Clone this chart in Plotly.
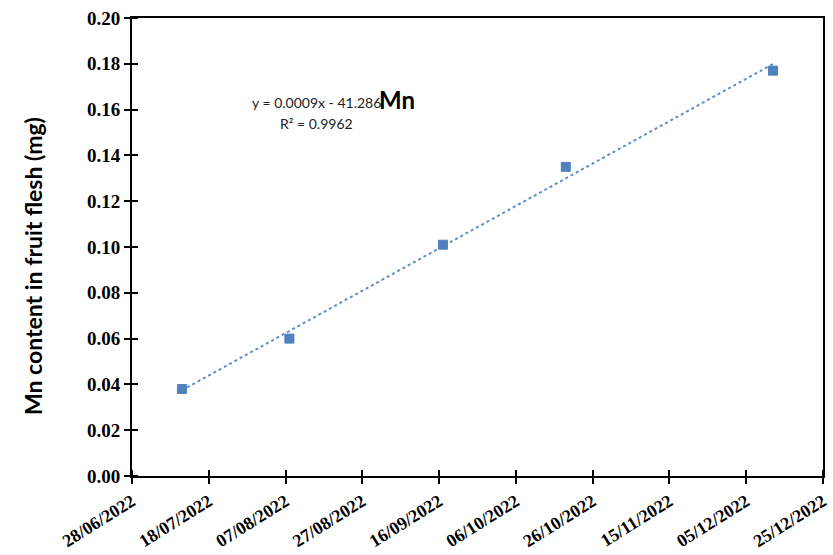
import numpy as np
import pandas as pd
import plotly.graph_objects as go

# Sampling dates and Mn content in fruit flesh
sample_dates = ["2022-07-11", "2022-08-08", "2022-09-17", "2022-10-19", "2022-12-12"]
mn_content = [0.038, 0.060, 0.101, 0.135, 0.177]

y_title = "Mn content in fruit flesh (mg)"
equation_text = "y = 0.0009x - 41.286"
r2_text = "R² = 0.9962"

x_dt = pd.to_datetime(sample_dates)

# Linear trend line fitted over day numbers
days = (x_dt - x_dt[0]).days.values.astype(float)
slope, intercept = np.polyfit(days, mn_content, 1)
trend_y = slope * days[[0, -1]] + intercept
trend_x = x_dt[[0, -1]]

serif = "Liberation Serif"
sans = "Lato"

fig = go.Figure()
fig.add_trace(go.Scatter(
    x=trend_x, y=trend_y, mode="lines",
    line=dict(color="#5B8FD0", width=2, dash="dot"),
    showlegend=False, hoverinfo="skip",
))
fig.add_trace(go.Scatter(
    x=x_dt, y=mn_content, mode="markers",
    marker=dict(symbol="square", size=9, color="#4F81BD",
                line=dict(color="#4F81BD", width=1)),
    showlegend=False,
))

day_ms = 86400000
fig.update_layout(
    width=833, height=555,
    margin=dict(l=132, r=10, t=18, b=79),
    paper_bgcolor="white", plot_bgcolor="white",
    xaxis=dict(
        type="date", range=["2022-06-28", "2022-12-25"], automargin=False,
        tick0="2022-06-28", dtick=20 * day_ms, tickformat="%d/%m/%Y",
        tickangle=-32,
        tickfont=dict(family=serif, size=18, color="black", weight="bold"),
        showgrid=False, zeroline=False,
        showline=True, linecolor="black", linewidth=2, mirror=True,
        ticks="outside", ticklen=6, tickwidth=2, tickcolor="black",
        minor=dict(ticks="inside", ticklen=6, tickwidth=2, tickcolor="black",
                   tick0="2022-06-28", dtick=20 * day_ms, showgrid=False),
    ),
    yaxis=dict(
        range=[0, 0.2], dtick=0.02, tickformat=".2f", automargin=False,
        tickfont=dict(family=serif, size=19, color="black", weight="bold"),
        showgrid=False, zeroline=False,
        showline=True, linecolor="black", linewidth=2, mirror=True,
        ticks="outside", ticklen=6, tickwidth=2, tickcolor="black",
        minor=dict(ticks="inside", ticklen=6, tickwidth=2, tickcolor="black",
                   dtick=0.02, showgrid=False),
    ),
    annotations=[
        dict(x=33, y=266, xref="paper", yref="paper", text="<b>" + y_title + "</b>",
             textangle=-90, showarrow=False,
             font=dict(family=sans, size=23, color="black")),
        dict(x=316, y=103, xref="paper", yref="paper", text=equation_text,
             showarrow=False, font=dict(family=sans, size=14, color="#222")),
        dict(x=316, y=123, xref="paper", yref="paper", text=r2_text,
             showarrow=False, font=dict(family=sans, size=14, color="#222")),
        dict(x=397, y=99, xref="paper", yref="paper", text="<b>Mn</b>",
             showarrow=False, font=dict(family=sans, size=24, color="black")),
    ],
)

# Convert pixel positions of the text labels to paper coordinates
pw = 833 - 132 - 10
ph = 555 - 18 - 79
for ann in fig.layout.annotations:
    px, py = ann.x, ann.y
    ann.x = (px - 132) / pw
    ann.y = 1 - (py - 18) / ph
    ann.xanchor = "center"
    ann.yanchor = "middle"

fig.write_html("out.html")
